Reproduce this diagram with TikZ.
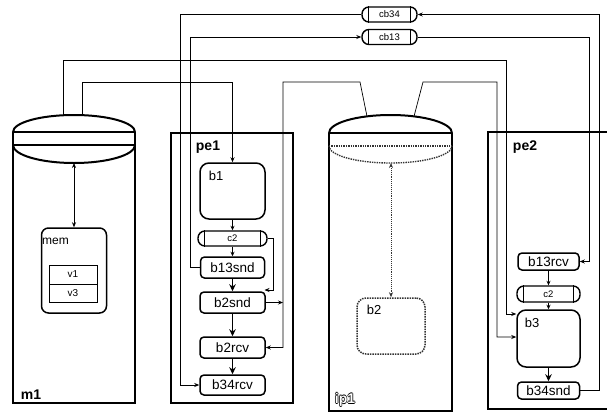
\documentclass[tikz,border=0pt]{standalone}
\usepackage{fontspec}
\setmainfont{Liberation Sans}
\usetikzlibrary{arrows.meta}
\newcommand{\hollowtext}[1]{\leavevmode\rlap{\kern-0.7pt#1}\rlap{\kern0.7pt#1}\rlap{\raisebox{0.7pt}{#1}}\rlap{\raisebox{-0.7pt}{#1}}\textcolor{white}{#1}}
\tikzset{
  wire/.style={line width=0.7pt},
  tip/.style={-{Stealth[length=5pt,width=4pt]}},
  bitip/.style={{Stealth[length=5pt,width=4pt]}-{Stealth[length=5pt,width=4pt]}},
  flow/.style={line width=1.3pt,-{Stealth[length=7pt,width=6.5pt]}},
  smallflow/.style={line width=0.8pt,-{Stealth[length=4.5pt,width=4pt]}},
  cont/.style={line width=1.2pt},
  lens/.style={line width=2pt},
  box/.style={draw,line width=1.5pt,rounded corners=4pt,inner sep=0pt,font=\fontsize{13.5}{15}\selectfont},
  bigbox/.style={draw,line width=1.5pt,rounded corners=9pt,inner sep=0pt},
  chan/.style={draw,line width=1.4pt,rounded corners=7pt,inner sep=0pt,minimum height=15pt,font=\fontsize{9.5}{10}\selectfont},
  capline/.style={line width=1.2pt},
  tlabel/.style={font=\bfseries\fontsize{14}{16}\selectfont,inner sep=0pt},
  blabel/.style={font=\fontsize{13}{15}\selectfont,inner sep=0pt},
  cell/.style={draw,line width=0.6pt,inner sep=0pt,minimum width=48pt,font=\fontsize{10}{11}\selectfont},
  dots/.style={densely dotted,black!80},
}
\begin{document}
\begin{tikzpicture}[x=1pt,y=-1pt]
\useasboundingbox (0,0) rectangle (607,415);

% ---------------- m1 ----------------
\draw[cont] (13,132) -- (13,403) -- (135,403) -- (135,132);
\draw[lens] (13,132) arc[start angle=180,end angle=360,x radius=61,y radius=17];
\draw[cont] (13,132) -- (135,132);
\draw[cont] (13,145) -- (135,145);
\draw[lens] (13,145) arc[start angle=180,end angle=0,x radius=61,y radius=18];
\coordinate (m1a) at (63,115.4);
\coordinate (m1b) at (82,115.2);
\coordinate (m1e) at (74,163);
\node[tlabel] (m1t) at (31,395) {m1};
\node[draw,line width=1.5pt,rounded corners=7pt,minimum width=65pt,minimum height=85pt] (mem) at (74,270.5) {};
\node[blabel,anchor=west,font=\fontsize{12}{13}\selectfont] (memt) at (42,241) {mem};
\node[cell,minimum height=19pt] (v1) at (73,274.5) {v1};
\node[cell,minimum height=18pt] (v3) at (73,293) {v3};
\draw[wire,bitip] (m1e) -- (mem.north);

% ---------------- pe1 ----------------
\draw[cont] (171,133) rectangle (293,403);
\node[tlabel] (pe1t) at (208,147) {pe1};
\node[bigbox,minimum width=65pt,minimum height=56pt] (b1) at (232.5,191) {};
\node[blabel] (b1t) at (216,176) {b1};
\node[chan,minimum width=69pt] (c2a) at (232.5,238.5) {c2};
\node[box,minimum width=64pt,minimum height=21pt] (b13snd) at (232.5,267.5) {b13snd};
\node[box,minimum width=65pt,minimum height=21pt] (b2snd) at (232.5,302.5) {b2snd};
\node[box,minimum width=65pt,minimum height=21pt] (b2rcv) at (232.5,347.5) {b2rcv};
\node[box,minimum width=65pt,minimum height=20pt] (b34rcv) at (232.5,385) {b34rcv};
\draw[smallflow] (b1.south) -- (c2a.north);
\draw[smallflow] (c2a.south) -- (b13snd.north);
\draw[flow] (b13snd.south) -- (b2snd.north);
\draw[flow] (b2snd.south) -- (b2rcv.north);
\draw[flow] (b2rcv.south) -- (b34rcv.north);

% ---------------- ip1 ----------------
\draw[cont] (329,133) -- (329,411) -- (452,411) -- (452,133);
\draw[lens] (329,133) arc[start angle=180,end angle=360,x radius=61.5,y radius=18];
\draw[lens] (329,133) -- (452,133);
\draw[line width=1.4pt,dots] (329,146) -- (452,146);
\draw[line width=1.4pt,dots] (329,146) arc[start angle=180,end angle=0,x radius=61.5,y radius=17];
\coordinate (ipL) at (367,116.4);
\coordinate (ipR) at (414,116.4);
\coordinate (ipE) at (391,163);
\node[tlabel] (ip1t) at (345,400) {\hollowtext{ip1}};
\node[draw,line width=1.5pt,dots,rounded corners=9pt,minimum width=68pt,minimum height=56pt] (b2) at (391,326) {};
\node[blabel] (b2t) at (374,310) {b2};
\draw[line width=0.9pt,dots,bitip] (ipE) -- (b2.north);

% ---------------- pe2 ----------------
\draw[cont] (612,132) -- (488,132) -- (488,409) -- (612,409);
\node[tlabel] (pe2t) at (525,147) {pe2};
\node[box,minimum width=61pt,minimum height=17pt] (b13rcv) at (548.5,261.5) {b13rcv};
\node[chan,minimum width=63pt,minimum height=16pt] (c2b) at (548.5,294) {c2};
\node[bigbox,minimum width=63pt,minimum height=57pt] (b3) at (548.5,338.5) {};
\node[blabel] (b3t) at (532,323) {b3};
\node[box,minimum width=62pt,minimum height=17pt] (b34snd) at (548.5,390.5) {b34snd};
\draw[smallflow] (b13rcv.south) -- (c2b.north);
\draw[smallflow] (c2b.south) -- (b3.north);
\draw[flow] (b3.south) -- (b34snd.north);

% ---------------- channels ----------------
\node[chan,minimum width=55pt] (cb34) at (389.5,14.5) {cb34};
\node[chan,minimum width=55pt] (cb13) at (389.5,37) {cb13};
\foreach \n in {cb34,cb13,c2a,c2b} {
  \draw[capline] ([xshift=7.5pt]\n.north west) -- ([xshift=7.5pt]\n.south west);
  \draw[capline] ([xshift=-7.5pt]\n.north east) -- ([xshift=-7.5pt]\n.south east);
}

% ---------------- wires ----------------
\coordinate (k1) at (506,60);
\draw[wire,tip] (m1a) |- (k1) |- (b3.west |- 0,314);
\draw[wire,tip] (m1b) |- (b1.north |- 0,82) -- (b1.north);
\coordinate (k3) at (283,82);
\draw[wire,tip] (ipL) -- (360,82) -- (k3) |- (b2rcv.east);
\coordinate (j1) at (283,302.5);
\draw[wire,tip] (b2snd.east) -- (j1);
\draw[wire,tip] (ipR) -- (423,82) -- (497,82) |- (b3.west |- 0,337);
\draw[wire,tip] (c2a.east) -| (273,290) -- (264.5,290);
\draw[wire,tip] (b13snd.west) -- (b13snd.west -| 190,0) |- (cb13.west);
\draw[wire,tip] (cb34.west) -| (180,385) -- (b34rcv.west);
\draw[wire,tip] (cb13.east) -| (589,261.5) -- (b13rcv.east);
\draw[wire,tip] (b34snd.east) -- (599,390.5) |- (cb34.east);
\end{tikzpicture}
\end{document}
